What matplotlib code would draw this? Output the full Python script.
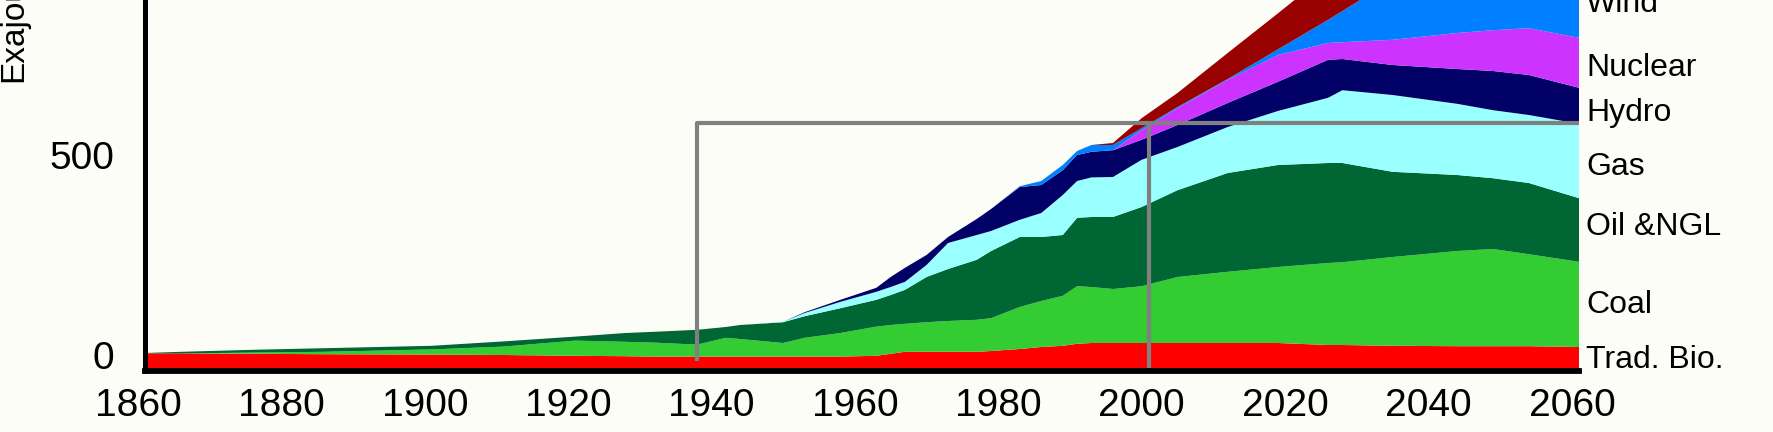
import matplotlib
matplotlib.use("Agg")
import matplotlib.pyplot as plt
from matplotlib.transforms import ScaledTranslation

# ── Data (EJ per year) ───────────────────────────────────────────────────────
years = [1860, 1865, 1875, 1885, 1900, 1910, 1920, 1927, 1931, 1937, 1941, 1943,
         1949, 1952, 1957, 1962, 1964, 1966, 1969, 1972, 1976, 1978, 1982, 1985,
         1988, 1990, 1992, 1995, 1999, 2004, 2011, 2018, 2025, 2027, 2034, 2043,
         2048, 2053, 2060]

trad_bio = [44, 44, 43, 42, 41, 40, 38, 37, 36, 36, 36, 36, 36, 36, 36, 38, 43, 48,
            48, 48, 48, 50, 55, 60, 63, 68, 70, 70, 70, 70, 70, 70, 65, 65, 63, 62,
            62, 62, 60]
coal = [0, 0, 3, 6, 13, 21, 38, 36, 35, 30, 47, 44, 34, 47, 59, 73, 72, 70, 74, 77,
        80, 82, 105, 115, 125, 144, 140, 135, 142, 165, 178, 190, 205, 207, 222, 238,
        243, 230, 213]
oil_ngl = [1, 4, 7, 9, 9, 13, 10, 22, 27, 37, 27, 35, 52, 54, 62, 67, 75, 85, 113,
           130, 150, 168, 175, 160, 152, 171, 175, 180, 198, 217, 247, 255, 250, 248,
           213, 190, 177, 178, 159]
gas = [0, 0, 0, 0, 0, 0, 0, 0, 0, 0, 0, 0, 1, 8, 16, 20, 20, 20, 30, 65, 62, 50, 43,
       60, 100, 92, 99, 100, 118, 108, 115, 135, 163, 182, 192, 178, 170, 170, 186]
hydro = [0, 0, 0, 0, 0, 0, 0, 0, 0, 0, 0, 0, 0, 2, 5, 10, 25, 35, 25, 15, 40, 55,
         82, 70, 62, 65, 64, 67, 50, 55, 60, 73, 95, 78, 75, 87, 98, 100, 90]
nuclear = [0, 0, 0, 0, 0, 0, 0, 0, 0, 0, 0, 0, 0, 0, 0, 0, 0, 0, 0, 0, 0, 0, 0, 0,
           0, 0, 0, 0, 24, 42, 58, 67, 42, 42, 63, 90, 102, 117, 125]
wind = [0, 0, 0, 0, 0, 0, 0, 0, 0, 0, 0, 0, 0, 0, 0, 0, 0, 0, 0, 0, 0, 0, 2, 10, 13,
        10, 17, 13, 5, 3, 2, 14, 58, 78, 149, 205, 228, 243, 287]
top_layer = [0, 0, 0, 0, 0, 0, 0, 0, 0, 0, 0, 0, 0, 0, 0, 0, 0, 0, 0, 0, 0, 0, 0, 0,
             0, 0, 0, 5, 25, 35, 65, 90, 117, 130, 148, 180, 200, 220, 240]

labels = ["Trad. Bio.", "Coal", "Oil &NGL", "Gas", "Hydro", "Nuclear", "Wind"]
x_ticks = [1860, 1880, 1900, 1920, 1940, 1960, 1980, 2000, 2020, 2040, 2060]
y_ticks = [0, 500]

# gray highlight frame (year, EJ)
box_left, box_mid, box_right, box_top = 1937, 2000, 2060, 620

# ── Style ────────────────────────────────────────────────────────────────────
COLORS = ["#FF0000", "#33CC33", "#006633", "#99FFFF", "#000066", "#CC33FF",
          "#0080FF", "#990000"]
LABEL_Y = [27, 165, 360, 510, 645, 757, 917]
BG = "#FDFDF8"

plt.rcParams["font.family"] = ["Liberation Sans", "DejaVu Sans"]

fig = plt.figure(figsize=(17.74, 4.32), dpi=100, facecolor=BG)
ax = fig.add_axes([0.0817, 0.1412, 0.8084, 0.8588], facecolor=BG)

ax.stackplot(years, trad_bio, coal, oil_ngl, gas, hydro, nuclear, wind, top_layer,
             colors=COLORS, linewidth=0, zorder=1)

ax.plot([box_left, box_left, box_right], [25, box_top, box_top],
        color="#808080", lw=3, solid_capstyle="butt", zorder=2)
ax.plot([box_mid, box_mid], [0, box_top], color="#808080", lw=3,
        solid_capstyle="butt", zorder=2)

for name, y in zip(labels, LABEL_Y):
    ax.text(2061, y, name, fontsize=23, va="center", ha="left", clip_on=False)

ax.set_xlim(1860, 2060)
ax.set_ylim(0, 927.5)
ax.set_xticks(x_ticks)
ax.set_yticks(y_ticks)
ax.tick_params(axis="x", length=0, pad=12, labelsize=28)
ax.tick_params(axis="y", length=0, pad=22, labelsize=28)
yshift = ScaledTranslation(0, 0.16, fig.dpi_scale_trans)
for lbl in ax.get_yticklabels():
    lbl.set_transform(lbl.get_transform() + yshift)
xshift = ScaledTranslation(-0.07, 0, fig.dpi_scale_trans)
for lbl in ax.get_xticklabels():
    lbl.set_transform(lbl.get_transform() + xshift)

for side in ("top", "right"):
    ax.spines[side].set_visible(False)
ax.spines["left"].set_linewidth(3.6)
ax.spines["bottom"].set_linewidth(4.2)

fig.text(14 / 1774, 1 - 82 / 432, "Exajoules", rotation=90, fontsize=24,
         ha="center", va="bottom")

fig.savefig("out.png", dpi=100, facecolor=BG)
